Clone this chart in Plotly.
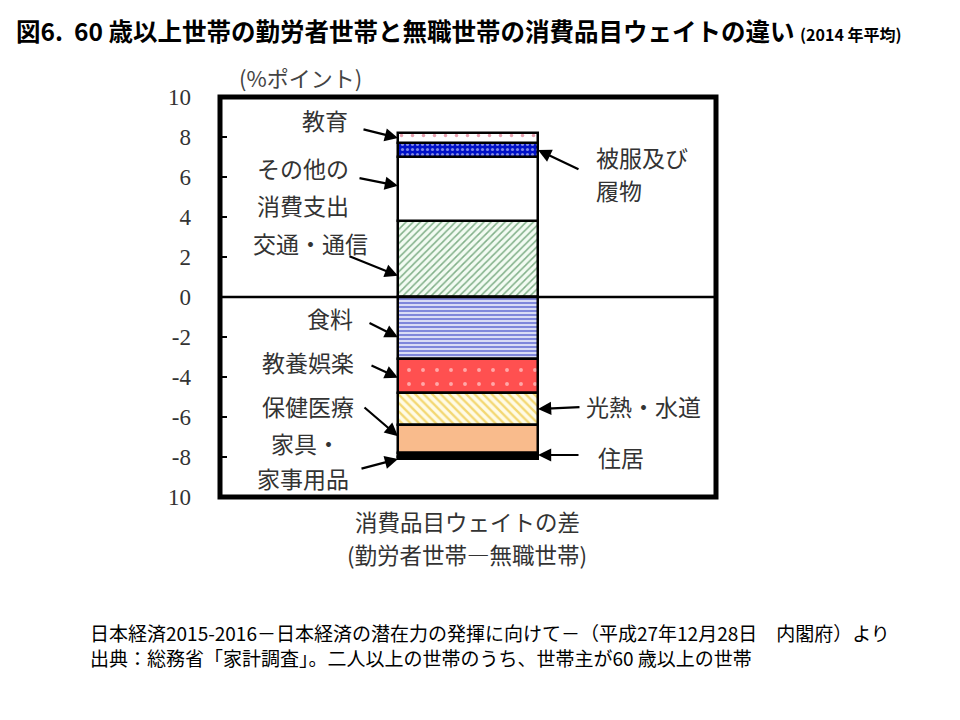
import plotly.graph_objects as go

# ---- data ----
categories = ["交通・通信", "その他の消費支出", "被服及び履物", "教育",
              "食料", "教養娯楽", "光熱・水道", "保健医療", "住居", "家具・家事用品"]
values = [3.8, 3.2, 0.7, 0.5,
          -3.1, -1.7, -1.6, -1.4, -0.2, -0.1]
ytick_vals = [10, 8, 6, 4, 2, 0, -2, -4, -6, -8, -10]
ytick_text = ["10", "8", "6", "4", "2", "0", "-2", "-4", "-6", "-8", "10"]

# ---- styles ----
styles = {
    "交通・通信": dict(color="#f2fbf2", pattern=dict(shape="/", fgcolor="#10651f", bgcolor="#f2fbf2", size=5, solidity=0.3)),
    "その他の消費支出": dict(color="white"),
    "被服及び履物": dict(color="#0010c8", pattern=dict(shape=".", fgcolor="white", bgcolor="#0010c8", size=5, solidity=0.3)),
    "教育": dict(color="white", pattern=dict(shape=".", fgcolor="#d04060", bgcolor="white", size=11, solidity=0.08)),
    "食料": dict(color="white", pattern=dict(shape="-", fgcolor="#0010b8", bgcolor="white", size=4, solidity=0.65)),
    "教養娯楽": dict(color="#ff5050", pattern=dict(shape=".", fgcolor="white", bgcolor="#ff5050", size=14, solidity=0.06)),
    "光熱・水道": dict(color="#fffbe6", pattern=dict(shape="\\", fgcolor="#e8b400", bgcolor="#fffbe6", size=6, solidity=0.4)),
    "保健医療": dict(color="#f9bb8c"),
    "住居": dict(color="black"),
    "家具・家事用品": dict(color="black"),
}

fig = go.Figure()
for cat, v in zip(categories, values):
    st = styles[cat]
    marker = dict(color=st["color"], line=dict(color="black", width=2.5))
    if "pattern" in st:
        marker["pattern"] = st["pattern"]
    fig.add_trace(go.Bar(x=[0], y=[v], name=cat, width=1, marker=marker,
                         showlegend=False, hoverinfo="name+y"))

# page body has an 8px margin: figure is drawn at (8, 8)
OFF = 8
FW, FH = 960 - OFF, 720 - OFF
L, R, T, B = 220, 716, 97, 497          # plot area in screen pixels
W, H = R - L, B - T

def px(xp):
    return (xp - L) / W

def py(yp):
    return (B - yp) / H

XR = W / 140 / 2
fig.update_layout(
    width=FW, height=FH,
    margin=dict(l=L - OFF, r=FW - (R - OFF), t=T - OFF, b=FH - (B - OFF)),
    paper_bgcolor="white", plot_bgcolor="white",
    barmode="relative", bargap=0,
    xaxis=dict(range=[-XR, XR], visible=False, fixedrange=True),
    yaxis=dict(range=[-10, 10], tickvals=ytick_vals, ticktext=ytick_text,
               ticks="inside", ticklen=7, tickwidth=2, tickcolor="black",
               showgrid=False, zeroline=False, showline=False,
               ticklabelstandoff=28,
               tickfont=dict(family="Liberation Serif", size=23, color="#333333")),
    font=dict(family="Noto Sans CJK JP", color="#333333"),
)

# frame and zero line
fig.add_shape(type="rect", xref="paper", yref="paper", x0=0, x1=1, y0=0, y1=1,
              line=dict(color="black", width=5), layer="above")
fig.add_shape(type="line", xref="paper", yref="y", x0=0, x1=1, y0=0, y1=0,
              line=dict(color="black", width=2.5), layer="above")

# segment positions from data
pos_cum, neg_cum = 0.0, 0.0
seg = {}
for cat, v in zip(categories, values):
    if v >= 0:
        seg[cat] = (pos_cum, pos_cum + v)
        pos_cum += v
    else:
        seg[cat] = (neg_cum, neg_cum + v)
        neg_cum += v

# arrows: (category, side, fraction within segment, ax, ay)
arrows = [
    ("教育", -1, 0.5, -36, -9),
    ("被服及び履物", 1, 0.5, 42, 20),
    ("その他の消費支出", -1, 0.55, -40, -8),
    ("交通・通信", -1, 0.28, -50, -20),
    ("食料", -1, 0.65, -30, -15),
    ("教養娯楽", -1, 0.55, -28, -13),
    ("光熱・水道", 1, 0.5, 43, -2),
    ("保健医療", -1, 0.4, -35, -30),
    ("住居", 1, 0.5, 42, 0),
    ("家具・家事用品", -1, 1.0, -38, 10),
]
for cat, side, frac, ax, ay in arrows:
    a, b = seg[cat]
    fig.add_annotation(x=0.5 * side, y=a + (b - a) * frac, xref="x", yref="y",
                       text="", showarrow=True, ax=ax, ay=ay,
                       arrowhead=2, arrowsize=1.2, arrowwidth=2.2, arrowcolor="black")

# labels: (text, x_px, y_px, anchor)
labels = [
    ("教育", 325, 120, "center"),
    ("その他の", 303, 168, "center"),
    ("消費支出", 303, 205, "center"),
    ("交通・通信", 310, 243, "center"),
    ("食料", 330, 318, "center"),
    ("教養娯楽", 308, 362, "center"),
    ("保健医療", 308, 406, "center"),
    ("家具・", 305, 443, "center"),
    ("家事用品", 303, 478, "center"),
    ("被服及び", 594, 157, "left"),
    ("履物", 594, 190, "left"),
    ("光熱・水道", 584, 406, "left"),
    ("住居", 596, 457, "left"),
]
for t, xp, yp, anc in labels:
    fig.add_annotation(x=px(xp), y=py(yp), xref="paper", yref="paper", text=t,
                       showarrow=False, xanchor=anc, yanchor="middle",
                       font=dict(size=23, color="#333333"))

# unit label and x-axis title
fig.add_annotation(x=px(300), y=py(77), xref="paper", yref="paper", text="(%ポイント)",
                   showarrow=False, xanchor="center", yanchor="middle",
                   font=dict(size=22, color="#444444"))
for t, yp in [("消費品目ウェイトの差", 521), ("(勤労者世帯―無職世帯)", 554)]:
    fig.add_annotation(x=px(467), y=py(yp), xref="paper", yref="paper", text=t,
                       showarrow=False, xanchor="center", yanchor="middle",
                       font=dict(size=22.5, color="#333333"))

# title
fig.add_annotation(x=px(14), y=py(31), xref="paper", yref="paper",
                   text="<b>図6.  60 歳以上世帯の勤労者世帯と無職世帯の消費品目ウェイトの違い</b> <b><span style='font-size:16px'>(2014 年平均)</span></b>",
                   showarrow=False, xanchor="left", yanchor="middle",
                   font=dict(size=24.5, color="black"))

# footer
fig.add_annotation(x=px(88), y=py(645), xref="paper", yref="paper",
                   text="日本経済2015-2016－日本経済の潜在力の発揮に向けて－（平成27年12月28日　内閣府）より"
                        "<br>出典：総務省「家計調査」。二人以上の世帯のうち、世帯主が60 歳以上の世帯",
                   showarrow=False, xanchor="left", yanchor="middle", align="left",
                   font=dict(size=19, color="black"))

fig.write_html("out.html")
